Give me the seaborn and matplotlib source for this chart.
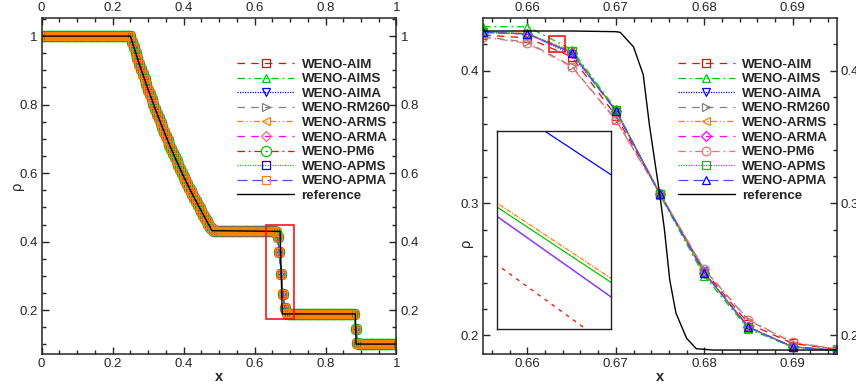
import numpy as np
import pandas as pd
import matplotlib
matplotlib.use("Agg")
import matplotlib.pyplot as plt
import seaborn as sns
from matplotlib.ticker import MultipleLocator, FuncFormatter
from matplotlib.patches import Rectangle

# ---------------- data ----------------
labels = ["WENO-AIM", "WENO-AIMS", "WENO-AIMA", "WENO-RM260", "WENO-ARMS",
          "WENO-ARMA", "WENO-PM6", "WENO-APMS", "WENO-APMA"]

# left panel: numerical density on the 0.005 grid (all schemes overlap at this scale)
x_left = np.arange(201) * 0.005
rho_left = ([1.0] * 51 +
            [0.983, 0.967, 0.951, 0.935, 0.919, 0.904, 0.889, 0.874, 0.859, 0.844,
             0.830, 0.815, 0.801, 0.787, 0.774, 0.760, 0.747, 0.734, 0.721, 0.708,
             0.696, 0.683, 0.671, 0.659, 0.647, 0.635, 0.624, 0.613, 0.601, 0.590,
             0.579, 0.569, 0.558, 0.548, 0.538, 0.528, 0.518, 0.508, 0.498, 0.489,
             0.479, 0.470, 0.461, 0.452, 0.444, 0.436] +
            [0.430] * 35 +
            [0.428, 0.413, 0.369, 0.307, 0.247, 0.206, 0.192, 0.189] +
            [0.189] * 37 +
            [0.145, 0.104] +
            [0.101] * 22)

ref_left_x = [0.0, 0.25, 0.275, 0.30, 0.325, 0.35, 0.375, 0.40, 0.425, 0.45, 0.48,
              0.672, 0.678, 0.884, 0.886, 1.0]
ref_left_rho = [1.0, 1.0, 0.919, 0.844, 0.774, 0.708, 0.647, 0.590, 0.538, 0.489, 0.432,
                0.430, 0.189, 0.189, 0.101, 0.101]

# right panel: zoom near the contact discontinuity
x_right = [0.655, 0.660, 0.665, 0.670, 0.675, 0.680, 0.685, 0.690, 0.695]
rho_aim   = [0.4270, 0.4248, 0.4105, 0.3660, 0.3070, 0.2490, 0.2090, 0.1940, 0.1895]
rho_aims  = [0.4333, 0.4332, 0.4160, 0.3710, 0.3060, 0.2450, 0.2050, 0.1912, 0.1885]
rho_aima  = [0.4290, 0.4280, 0.4125, 0.3700, 0.3070, 0.2475, 0.2065, 0.1915, 0.1887]
rho_rm260 = [0.4257, 0.4215, 0.4035, 0.3630, 0.3070, 0.2500, 0.2115, 0.1945, 0.1898]
rho_arms  = [0.4295, 0.4281, 0.4150, 0.3700, 0.3070, 0.2470, 0.2060, 0.1915, 0.1887]
rho_arma  = [0.4290, 0.4277, 0.4137, 0.3695, 0.3070, 0.2475, 0.2065, 0.1915, 0.1887]
rho_pm6   = [0.4255, 0.4207, 0.4030, 0.3628, 0.3070, 0.2502, 0.2120, 0.1949, 0.1899]
rho_apms  = [0.4292, 0.4279, 0.4148, 0.3700, 0.3065, 0.2470, 0.2060, 0.1912, 0.1886]
rho_apma  = [0.4290, 0.4277, 0.4137, 0.3695, 0.3070, 0.2475, 0.2065, 0.1914, 0.1887]
rho_right = [rho_aim, rho_aims, rho_aima, rho_rm260, rho_arms, rho_arma, rho_pm6, rho_apms, rho_apma]

ref_right_x = [0.655, 0.665, 0.670, 0.6705, 0.672, 0.6731, 0.6738, 0.675, 0.6755, 0.6761,
               0.6768, 0.678, 0.6791, 0.681, 0.695]
ref_right_rho = [0.430, 0.430, 0.4295, 0.429, 0.418, 0.397, 0.359, 0.305, 0.280, 0.242,
                 0.217, 0.198, 0.190, 0.189, 0.189]

# inset (magnified segment between x=0.660 and 0.665)
inset_x = [0.660, 0.665]
inset_aima = [0.4346, 0.42155]
inset_arms = [0.42812, 0.41502]
inset_apms = [0.42787, 0.41477]
inset_arma = [0.42771, 0.41371]
inset_aim = [0.42484, 0.41049]

# ---------------- styles ----------------
RED, GREEN, BLUE, GRAY = "#ff0000", "#00c800", "#0000ff", "#808080"
ORANGE, MAGENTA, SALMON, LBLUE = "#ff8000", "#ff00ff", "#ff6a6a", "#4a4aff"
DASH = (0, (6, 5))
DASHDOT = (0, (6, 3, 1.5, 3))
DOT = (0, (1, 1))
DDOT = (0, (5, 2, 1, 2, 1, 2))
LDASH = (0, (8, 4))

left_styles = [
    (RED, DASH, "s", RED), (GREEN, DASHDOT, "^", GREEN), (BLUE, DOT, "v", BLUE),
    (GRAY, DASH, ">", GRAY), (ORANGE, DDOT, "<", ORANGE), (MAGENTA, DASH, "D", SALMON),
    (RED, DASHDOT, "o", GREEN), (GREEN, DOT, "s", BLUE), (LBLUE, LDASH, "s", ORANGE)]
right_styles = [
    (RED, DASH, "s", RED), (GREEN, DASHDOT, "^", GREEN), (BLUE, DOT, "v", BLUE),
    (GRAY, DASH, ">", GRAY), (ORANGE, DDOT, "<", ORANGE), (MAGENTA, DASH, "D", MAGENTA),
    (SALMON, DASHDOT, "o", SALMON), (GREEN, DOT, "s", GREEN), (LBLUE, LDASH, "^", BLUE)]

sns.set_style("ticks")
plt.rcParams['font.family'] = ['Liberation Sans', 'DejaVu Sans']

fig = plt.figure(figsize=(8.56, 3.91), dpi=100)
ax1 = fig.add_axes([0.0487, 0.0946, 0.4145, 0.8586])
ax2 = fig.add_axes([0.5646, 0.0946, 0.4129, 0.8586])


def draw(ax, x, y, style, label, ms):
    color, ls, marker, mcol = style
    msz = ms - 1.3 if marker == "D" else ms
    sns.lineplot(x=x, y=y, ax=ax, color=color, linestyle=ls, lw=0.9,
                 marker=marker, markersize=msz, markerfacecolor="none",
                 markeredgecolor=mcol, markeredgewidth=0.9, label=label,
                 sort=False, estimator=None, legend=False)


for lab, st in zip(labels, left_styles):
    draw(ax1, x_left, rho_left, st, lab, 7.4 if st[2] == "o" else 6.0)
sns.lineplot(x=ref_left_x, y=ref_left_rho, ax=ax1, color="black", lw=1.0,
             label="reference", sort=False, estimator=None, legend=False)

for lab, st, yv in zip(labels, right_styles, rho_right):
    draw(ax2, x_right, yv, st, lab, 6.2)
sns.lineplot(x=ref_right_x, y=ref_right_rho, ax=ax2, color="black", lw=1.0,
             label="reference", sort=False, estimator=None, legend=False)

fmt = FuncFormatter(lambda v, p: "%g" % round(v, 6))
for ax in (ax1, ax2):
    ax.tick_params(which="both", direction="in", top=True, right=True,
                   labeltop=True, labelright=True, labelsize=9.5, width=1.0, pad=3)
    ax.tick_params(which="major", length=5)
    ax.tick_params(which="minor", length=2.6)
    ax.xaxis.set_major_formatter(fmt)
    ax.yaxis.set_major_formatter(fmt)
    for s in ax.spines.values():
        s.set_linewidth(1.1)
    ax.set_xlabel("x", fontsize=10.5, fontweight="bold", labelpad=0)
    ax.set_ylabel("ρ", fontsize=10.5)
    handles = ax.get_lines()[:10]
    ax.legend(handles=handles, labels=labels + ["reference"], loc="upper left",
              frameon=False, borderpad=0, borderaxespad=0, handlelength=4.3,
              handletextpad=0.55, labelspacing=0.17, numpoints=1,
              prop={"weight": "bold", "size": 9.6},
              bbox_to_anchor=(0.55, 0.881))

ax1.set_xlim(0, 1)
ax1.set_ylim(0.072, 1.052)
ax1.xaxis.set_major_locator(MultipleLocator(0.2))
ax1.xaxis.set_minor_locator(MultipleLocator(0.05))
ax1.yaxis.set_major_locator(MultipleLocator(0.2))
ax1.yaxis.set_minor_locator(MultipleLocator(0.05))
ax1.yaxis.set_label_coords(-0.05, 0.5)
ax1.add_patch(Rectangle((0.632, 0.173), 0.080, 0.275, fill=False, ec="red", lw=1.1, zorder=5))

ax2.set_xlim(0.655, 0.695)
ax2.set_ylim(0.186, 0.4396)
ax2.xaxis.set_major_locator(MultipleLocator(0.01))
ax2.xaxis.set_minor_locator(MultipleLocator(0.002))
ax2.yaxis.set_major_locator(MultipleLocator(0.1))
ax2.yaxis.set_minor_locator(MultipleLocator(0.02))
ax2.yaxis.set_label_coords(-0.028, 0.33)
ax2.add_patch(Rectangle((0.6624, 0.4139), 0.0019, 0.0125, fill=False, ec="red", lw=1.1, zorder=5))

# inset
axin = fig.add_axes([0.581, 0.1578, 0.1325, 0.508])
axin.set_facecolor("white")
sns.lineplot(x=inset_x, y=inset_aima, ax=axin, color=BLUE, lw=0.9, sort=False, estimator=None)
sns.lineplot(x=inset_x, y=inset_arms, ax=axin, color=ORANGE, lw=0.9, linestyle=(0, (4, 1, 1, 1)), sort=False, estimator=None)
sns.lineplot(x=inset_x, y=inset_apms, ax=axin, color=GREEN, lw=0.9, sort=False, estimator=None)
sns.lineplot(x=inset_x, y=inset_arma, ax=axin, color=MAGENTA, lw=1.0, linestyle=(0, (3, 2)), sort=False, estimator=None)
sns.lineplot(x=inset_x, y=inset_arma, ax=axin, color=LBLUE, lw=1.0, linestyle=(2.5, (3, 2)), sort=False, estimator=None)
sns.lineplot(x=inset_x, y=inset_aim, ax=axin, color=RED, lw=0.9, linestyle=(0, (3, 4)), sort=False, estimator=None)
axin.set_xlim(0.6624, 0.6642)
axin.set_ylim(0.4139, 0.4264)
axin.set_xticks([])
axin.set_yticks([])
axin.set_xlabel("")
axin.set_ylabel("")
for s in axin.spines.values():
    s.set_linewidth(1.0)
    s.set_color("#222222")

fig.savefig("out.png", dpi=100)
